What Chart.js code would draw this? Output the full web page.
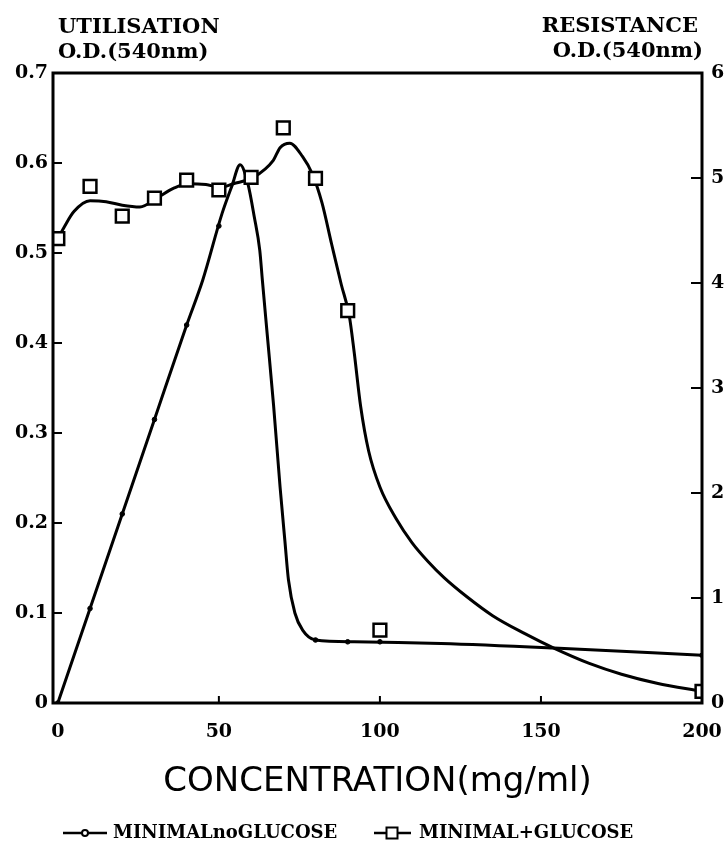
<!DOCTYPE html>
<html>
<head>
<meta charset="utf-8">
<style>
html,body{margin:0;padding:0;background:#fff;}
canvas{display:block;}
</style>
<script src="https://cdn.jsdelivr.net/npm/chart.js@4/dist/chart.umd.min.js"></script>
</head>
<body>
<canvas id="c" width="728" height="846"></canvas>
<script>
// ---- texts & ticks ----
const xTickValues = [0, 50, 100, 150, 200];
const xTickLabels = ['0', '50', '100', '150', '200'];
const leftTickValues = [0, 0.1, 0.2, 0.3, 0.4, 0.5, 0.6, 0.7];
const leftTickLabels = ['0', '0.1', '0.2', '0.3', '0.4', '0.5', '0.6', '0.7'];
const rightTickValues = [0, 1, 2, 3, 4, 5, 6];
const rightTickLabels = ['0', '1', '2', '3', '4', '5', '6'];
const leftAxisTitle = ['UTILISATION', 'O.D.(540nm)'];
const rightAxisTitle = ['RESISTANCE', 'O.D.(540nm)'];
const xAxisTitle = 'CONCENTRATION(mg/ml)';
const seriesNames = ['MINIMALnoGLUCOSE', 'MINIMAL+GLUCOSE'];

// ---- series: MINIMAL no GLUCOSE (curve) ----
const noGlucoseX = [0, 10, 20, 30, 40, 45, 51, 54, 56.6, 59, 61, 62.7, 63.5, 65, 67, 69, 70.5, 71.6, 73.6, 76, 80, 92, 119, 154, 200];
const noGlucoseY = [0, 0.105, 0.21, 0.315, 0.42, 0.47, 0.544, 0.574, 0.598, 0.577, 0.54, 0.503, 0.47, 0.41, 0.33, 0.24, 0.18, 0.137, 0.1, 0.081, 0.07, 0.068, 0.066, 0.061, 0.053];

// ---- series: MINIMAL no GLUCOSE (small plotted circles) ----
const noGlucosePointX = [0, 10, 20, 30, 40, 50, 80, 90, 100, 200];
const noGlucosePointY = [0, 0.105, 0.21, 0.315, 0.42, 0.53, 0.07, 0.068, 0.068, 0.053];

// ---- series: MINIMAL + GLUCOSE (fitted curve) ----
const glucoseCurveX = [0, 2, 5, 10, 15, 20, 25.5, 30.7, 36, 40.4, 46, 50.4, 54.5, 60.7, 66.9, 69, 72, 76, 79, 82, 85, 88, 90.5, 92, 94, 96.5, 100, 105, 110, 115, 120, 127, 135, 145, 154, 165, 175, 186, 200];
const glucoseCurveY = [0.516, 0.529, 0.546, 0.558, 0.557, 0.553, 0.551, 0.561, 0.572, 0.577, 0.576, 0.573, 0.577, 0.584, 0.603, 0.617, 0.622, 0.607, 0.588, 0.556, 0.51, 0.465, 0.43, 0.39, 0.33, 0.28, 0.24, 0.205, 0.178, 0.157, 0.139, 0.118, 0.097, 0.077, 0.061, 0.044, 0.032, 0.022, 0.013];

// ---- series: MINIMAL + GLUCOSE (measured squares) ----
const glucosePointX = [0, 10, 20, 30, 40, 50, 60, 70, 80, 90, 100, 200];
const glucosePointY = [0.516, 0.574, 0.541, 0.561, 0.581, 0.570, 0.584, 0.639, 0.583, 0.436, 0.081, 0.013];

const toXY = (xs, ys) => xs.map((x, i) => ({ x: x, y: ys[i] }));
const serif = "'DejaVu Serif', serif";
const tickFont = { family: serif, weight: 'bold', size: 19 };

const framePlugin = {
  id: 'frame',
  afterDatasetsDraw(chart) {
    const { ctx, chartArea: a, scales } = chart;
    const x = scales.x, y = scales.y, y2 = scales.y2;
    ctx.save();
    ctx.strokeStyle = '#000';
    ctx.lineWidth = 3;
    ctx.lineCap = 'square';
    ctx.strokeRect(a.left, a.top, a.right - a.left, a.bottom - a.top);
    ctx.lineWidth = 2;
    ctx.lineCap = 'butt';
    const seg = (x1, y1, x2, y2b) => { ctx.beginPath(); ctx.moveTo(x1, y1); ctx.lineTo(x2, y2b); ctx.stroke(); };
    y.ticks.forEach(t => {
      if (t.value > 0 && t.value < y.max) { const p = y.getPixelForValue(t.value); seg(a.left, p, a.left + 9, p); }
    });
    y2.ticks.forEach(t => {
      if (t.value > 0 && t.value < y2.max) { const p = y2.getPixelForValue(t.value); seg(a.right, p, a.right - 11, p); }
    });
    x.ticks.forEach(t => {
      if (t.value > 0 && t.value < x.max) { const p = x.getPixelForValue(t.value); seg(p, a.bottom, p, a.bottom - 7); }
    });
    ctx.restore();
  },
  afterDraw(chart) {
    const { ctx, chartArea: a } = chart;
    ctx.save();
    ctx.fillStyle = '#000';
    ctx.strokeStyle = '#000';
    ctx.textBaseline = 'alphabetic';
    ctx.font = "bold 21px 'DejaVu Serif'";
    ctx.textAlign = 'left';
    ctx.fillText(leftAxisTitle[0], a.left + 5, 33);
    ctx.fillText(leftAxisTitle[1], a.left + 5, 58);
    ctx.textAlign = 'right';
    ctx.fillText(rightAxisTitle[0], a.right - 4, 32);
    ctx.fillText(rightAxisTitle[1], a.right + 1, 57);

    // legend
    const ly = 833;
    ctx.lineWidth = 2.5;
    ctx.beginPath(); ctx.moveTo(63, ly); ctx.lineTo(107, ly); ctx.stroke();
    ctx.fillStyle = '#fff'; ctx.lineWidth = 2;
    ctx.beginPath(); ctx.arc(85, ly, 3, 0, Math.PI * 2); ctx.fill(); ctx.stroke();
    ctx.lineWidth = 2.5;
    ctx.beginPath(); ctx.moveTo(374, ly); ctx.lineTo(411, ly); ctx.stroke();
    ctx.lineWidth = 2;
    ctx.fillRect(386.5, ly - 5.5, 11, 11); ctx.strokeRect(386.5, ly - 5.5, 11, 11);
    ctx.fillStyle = '#000';
    ctx.font = "bold 18px 'DejaVu Serif'";
    ctx.textAlign = 'left';
    ctx.textBaseline = 'middle';
    ctx.fillText(seriesNames[0], 113, ly);
    ctx.fillText(seriesNames[1], 419, ly);
    ctx.restore();
  }
};

new Chart(document.getElementById('c'), {
  type: 'line',
  data: {
    datasets: [
      {
        label: seriesNames[1] + ' (data)',
        data: toXY(glucosePointX, glucosePointY),
        showLine: false,
        pointStyle: 'rect',
        pointRadius: 9,
        pointBorderWidth: 2.5,
        pointBackgroundColor: '#fff',
        pointBorderColor: '#000',
        order: 0,
        yAxisID: 'y'
      },
      {
        label: seriesNames[0] + ' (data)',
        data: toXY(noGlucosePointX, noGlucosePointY),
        showLine: false,
        pointStyle: 'circle',
        pointRadius: 2.3,
        pointBorderWidth: 1,
        pointBackgroundColor: '#000',
        pointBorderColor: '#000',
        order: 1,
        yAxisID: 'y'
      },
      {
        label: seriesNames[0],
        data: toXY(noGlucoseX, noGlucoseY),
        borderColor: '#000',
        borderWidth: 3,
        pointRadius: 0,
        cubicInterpolationMode: 'monotone',
        fill: false,
        order: 2,
        yAxisID: 'y'
      },
      {
        label: seriesNames[1],
        data: toXY(glucoseCurveX, glucoseCurveY),
        borderColor: '#000',
        borderWidth: 3,
        pointRadius: 0,
        cubicInterpolationMode: 'monotone',
        fill: false,
        order: 3,
        yAxisID: 'y'
      }
    ]
  },
  options: {
    responsive: false,
    animation: false,
    devicePixelRatio: 1,
    layout: { padding: { top: 73, left: 0, right: 0, bottom: 0 } },
    plugins: {
      legend: { display: false },
      tooltip: { enabled: false },
      title: { display: false }
    },
    scales: {
      x: {
        type: 'linear',
        position: 'bottom',
        min: -1.5,
        max: 200,
        grid: { display: false, drawTicks: false },
        border: { display: false },
        afterBuildTicks: s => { s.ticks = xTickValues.map(v => ({ value: v })); },
        afterFit: s => { s.height = 143; s.paddingLeft = 0; s.paddingRight = 0; },
        ticks: {
          font: tickFont, color: '#000', padding: 18, maxRotation: 0, autoSkip: false,
          callback: (v, i) => xTickLabels[i]
        },
        title: {
          display: true, text: xAxisTitle, color: '#000',
          font: { family: "'DejaVu Sans', sans-serif", size: 34, weight: 'normal' },
          padding: { top: 0, bottom: 43 }
        }
      },
      y: {
        type: 'linear',
        position: 'left',
        min: 0,
        max: 0.7,
        grid: { display: false, drawTicks: false },
        border: { display: false },
        afterBuildTicks: s => { s.ticks = leftTickValues.map(v => ({ value: v })); },
        afterFit: s => { s.width = 53; },
        ticks: { font: tickFont, color: '#000', padding: 5, callback: (v, i) => leftTickLabels[i] }
      },
      y2: {
        type: 'linear',
        position: 'right',
        min: 0,
        max: 6,
        grid: { display: false, drawTicks: false },
        border: { display: false },
        afterBuildTicks: s => { s.ticks = rightTickValues.map(v => ({ value: v })); },
        afterFit: s => { s.width = 26; },
        ticks: { font: tickFont, color: '#000', padding: 9, callback: (v, i) => rightTickLabels[i] }
      }
    }
  },
  plugins: [framePlugin]
});
</script>
</body>
</html>
